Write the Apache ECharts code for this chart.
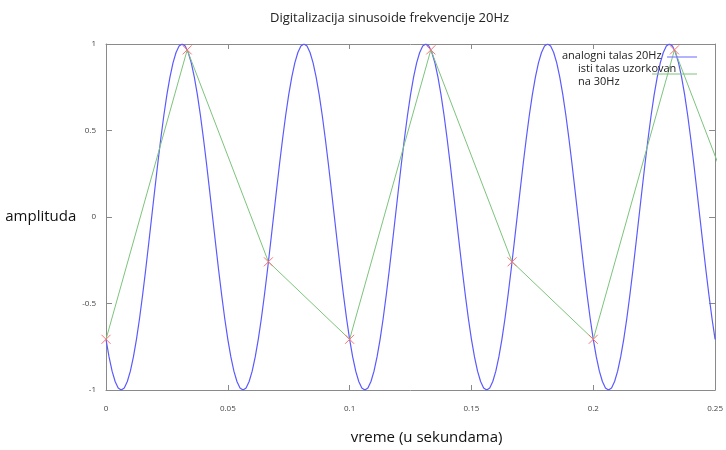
<!DOCTYPE html>
<html>
<head>
<meta charset="utf-8">
<script src="https://cdn.jsdelivr.net/npm/echarts@6/dist/echarts.min.js"></script>
<style>html,body{margin:0;padding:0;background:#fff}#c{width:726px;height:450px}</style>
</head>
<body>
<div id="c"></div>
<script>
var analogStep = 0.00125;
var analogValues = [
-0.707,-0.809,-0.891,-0.951,-0.988,-1,-0.988,-0.951,-0.891,-0.809,
-0.707,-0.588,-0.454,-0.309,-0.156,0,0.156,0.309,0.454,0.588,
0.707,0.809,0.891,0.951,0.988,1,0.988,0.951,0.891,0.809,
0.707,0.588,0.454,0.309,0.156,0,-0.156,-0.309,-0.454,-0.588,
-0.707,-0.809,-0.891,-0.951,-0.988,-1,-0.988,-0.951,-0.891,-0.809,
-0.707,-0.588,-0.454,-0.309,-0.156,0,0.156,0.309,0.454,0.588,
0.707,0.809,0.891,0.951,0.988,1,0.988,0.951,0.891,0.809,
0.707,0.588,0.454,0.309,0.156,0,-0.156,-0.309,-0.454,-0.588,
-0.707,-0.809,-0.891,-0.951,-0.988,-1,-0.988,-0.951,-0.891,-0.809,
-0.707,-0.588,-0.454,-0.309,-0.156,0,0.156,0.309,0.454,0.588,
0.707,0.809,0.891,0.951,0.988,1,0.988,0.951,0.891,0.809,
0.707,0.588,0.454,0.309,0.156,0,-0.156,-0.309,-0.454,-0.588,
-0.707,-0.809,-0.891,-0.951,-0.988,-1,-0.988,-0.951,-0.891,-0.809,
-0.707,-0.588,-0.454,-0.309,-0.156,0,0.156,0.309,0.454,0.588,
0.707,0.809,0.891,0.951,0.988,1,0.988,0.951,0.891,0.809,
0.707,0.588,0.454,0.309,0.156,0,-0.156,-0.309,-0.454,-0.588,
-0.707,-0.809,-0.891,-0.951,-0.988,-1,-0.988,-0.951,-0.891,-0.809,
-0.707,-0.588,-0.454,-0.309,-0.156,0,0.156,0.309,0.454,0.588,
0.707,0.809,0.891,0.951,0.988,1,0.988,0.951,0.891,0.809,
0.707,0.588,0.454,0.309,0.156,0,-0.156,-0.309,-0.454,-0.588,
-0.707
];
// Samples at 30 Hz
var sampleTimes = [0, 0.03333, 0.06667, 0.1, 0.13333, 0.16667, 0.2, 0.23333, 0.26667];
var sampleValues = [-0.707, 0.966, -0.259, -0.707, 0.966, -0.259, -0.707, 0.966, -0.259];
// Axis ticks
var xTicks = {min: 0, max: 0.25, interval: 0.05};
var yTicks = {min: -1, max: 1, interval: 0.5};
var titleText = 'Digitalizacija sinusoide frekvencije 20Hz';
var legendTexts = ['analogni talas 20Hz', 'isti talas uzorkovan', 'na 30Hz'];
var xName = 'vreme (u sekundama)';
var yName = 'amplituda';

var analogData = analogValues.map(function (v, i) { return [i * analogStep, v]; });
var sampleData = sampleTimes.map(function (t, i) { return [t, sampleValues[i]]; });

var FONT = '"Open Sans", "DejaVu Sans", sans-serif';
var axisGrey = '#8a8a8a';
function boxAxisLine() { return {show: true, onZero: false, lineStyle: {color: axisGrey, width: 1}}; }
var chart = echarts.init(document.getElementById('c'), null, {renderer: 'canvas'});
chart.setOption({
  animation: false,
  backgroundColor: '#fff',
  textStyle: {fontFamily: FONT},
  title: {
    text: titleText, left: 265, top: 7,
    textStyle: {fontSize: 13, fontWeight: 'normal', color: '#222', fontFamily: FONT}
  },
  grid: {left: 106, right: 8, top: 44, bottom: 48, containLabel: false},
  xAxis: [{
    type: 'value', position: 'bottom', min: xTicks.min, max: xTicks.max, interval: xTicks.interval,
    name: xName, nameLocation: 'middle', nameGap: 40,
    nameTextStyle: {fontSize: 15, color: '#111', fontFamily: FONT, padding: [0, 0, 0, 32]},
    axisLine: boxAxisLine(),
    axisTick: {show: true, inside: true, length: 5, lineStyle: {color: axisGrey}},
    axisLabel: {fontSize: 8, color: '#444', margin: 15, fontFamily: FONT},
    splitLine: {show: false}
  }, {
    type: 'value', position: 'top', min: xTicks.min, max: xTicks.max, interval: xTicks.interval,
    axisLine: boxAxisLine(),
    axisTick: {show: true, inside: true, length: 5, lineStyle: {color: axisGrey}},
    axisLabel: {show: false}, splitLine: {show: false}
  }],
  yAxis: [{
    type: 'value', position: 'left', min: yTicks.min, max: yTicks.max, interval: yTicks.interval,
    name: yName, nameLocation: 'middle', nameRotate: 0, nameGap: 26,
    nameTextStyle: {fontSize: 15, color: '#111', fontFamily: FONT},
    axisLine: boxAxisLine(),
    axisTick: {show: true, inside: true, length: 6, lineStyle: {color: axisGrey}},
    axisLabel: {fontSize: 8, color: '#444', margin: 10, fontFamily: FONT},
    splitLine: {show: false}
  }, {
    type: 'value', position: 'right', min: yTicks.min, max: yTicks.max, interval: yTicks.interval,
    axisLine: boxAxisLine(),
    axisTick: {show: true, inside: true, length: 6, lineStyle: {color: axisGrey}},
    axisLabel: {show: false}, splitLine: {show: false}
  }],
  series: [{
    type: 'line', xAxisIndex: 0, yAxisIndex: 0, data: analogData,
    showSymbol: false, symbol: 'none', smooth: false,
    lineStyle: {color: '#5a5aff', width: 1.2},
    emphasis: {disabled: true}, silent: true, z: 2
  }, {
    type: 'line', xAxisIndex: 0, yAxisIndex: 0, data: sampleData,
    symbol: 'path://M0,0L10,10M10,0L0,10', symbolSize: 9, showAllSymbol: true,
    lineStyle: {color: '#7cc47c', width: 1},
    itemStyle: {color: '#ff7070', borderColor: '#ff7070', borderWidth: 1},
    emphasis: {disabled: true}, silent: true, z: 3
  }],
  graphic: [
    {type: 'text', left: 562, top: 50, style: {text: legendTexts[0], fontSize: 11, fill: '#222', fontFamily: FONT}, z: 10},
    {type: 'line', shape: {x1: 667, y1: 57, x2: 697, y2: 57}, style: {stroke: '#8080ff', lineWidth: 1.2}, z: 10},
    {type: 'text', left: 578, top: 63, style: {text: legendTexts[1], fontSize: 11, fill: '#222', fontFamily: FONT}, z: 10},
    {type: 'line', shape: {x1: 652, y1: 74, x2: 697, y2: 74}, style: {stroke: '#7cc47c', lineWidth: 1}, z: 10},
    {type: 'text', left: 578, top: 76, style: {text: legendTexts[2], fontSize: 11, fill: '#222', fontFamily: FONT}, z: 10}
  ]
});
</script>
</body>
</html>
